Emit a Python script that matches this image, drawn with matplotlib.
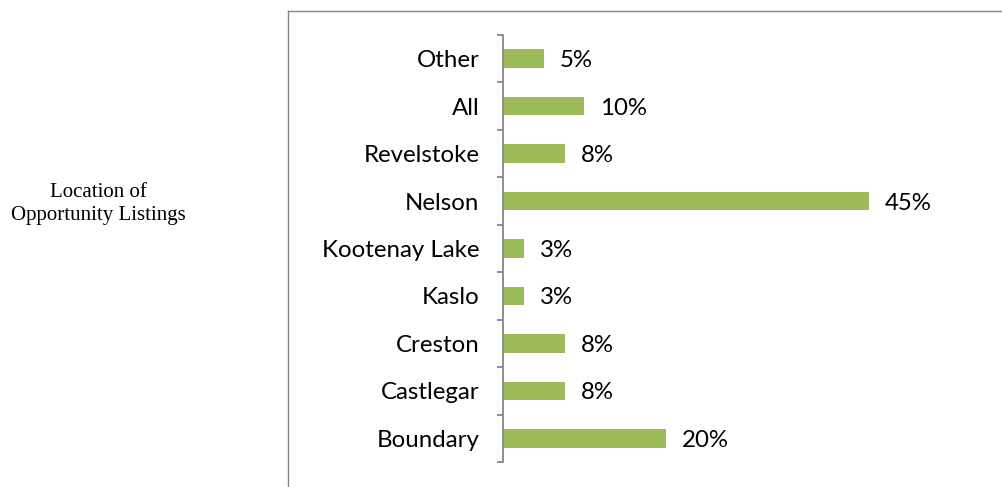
import matplotlib
matplotlib.use("Agg")
import matplotlib.pyplot as plt
from matplotlib.lines import Line2D

# categories bottom -> top
categories = ['Boundary', 'Castlegar', 'Creston', 'Kaslo', 'Kootenay Lake',
              'Nelson', 'Revelstoke', 'All', 'Other']
shares = [20, 7.6, 7.6, 2.6, 2.6, 45, 7.6, 10, 5]
share_labels = ['20%', '8%', '8%', '3%', '3%', '45%', '8%', '10%', '5%']

GREEN = '#9BBB59'
GRAY = '#868686'

fig = plt.figure(figsize=(10.03, 4.87), dpi=100)
ax = fig.add_axes([503 / 1003, 1 - 462 / 487, 488 / 1003, 427 / 487])

y = list(range(len(categories)))
ax.barh(y, shares, height=0.39, color=GREEN)

for yi, v, lab in zip(y, shares, share_labels):
    ax.annotate(lab, (v, yi), xytext=(11.5, 0), textcoords='offset points',
                va='center_baseline', ha='left', fontsize=17.3, family='Lato', color='black')

ax.set_xlim(0, 60)
ax.set_ylim(-0.5, len(categories) - 0.5)

for s in ['top', 'right', 'bottom']:
    ax.spines[s].set_visible(False)
ax.spines['left'].set_color(GRAY)
ax.spines['left'].set_linewidth(1.3)

ax.set_xticks([])
ax.set_yticks(y)
ax.set_yticklabels(categories, fontsize=17.3, family='Lato')
ax.tick_params(axis='y', which='major', length=0, pad=17)
ax.set_yticks([i - 0.5 for i in range(len(categories) + 1)], minor=True)
ax.tick_params(axis='y', which='minor', length=4, width=1.3, color=GRAY, direction='out')

# outer frame lines
fx = 288 / 1003
fy = 1 - 11 / 487
fig.add_artist(Line2D([fx, fx], [0, fy], transform=fig.transFigure, color=GRAY, lw=1.0))
fig.add_artist(Line2D([fx, 1], [fy, fy], transform=fig.transFigure, color=GRAY, lw=1.0))

fig.text(98 / 1003, 1 - 204 / 487, 'Location of\nOpportunity Listings', ha='center', va='center',
         fontsize=15, family='Liberation Serif', linespacing=1.35)

fig.savefig('out.png', dpi=100)
